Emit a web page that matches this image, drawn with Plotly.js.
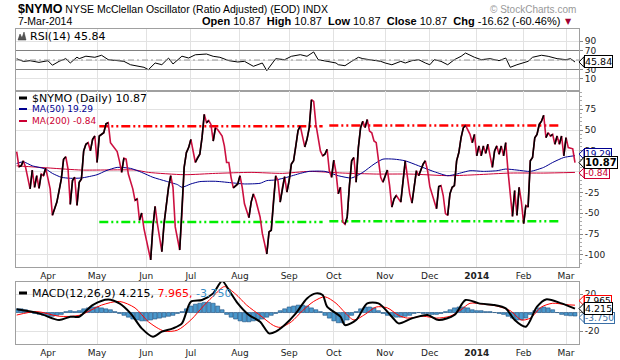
<!DOCTYPE html>
<html><head><meta charset="utf-8">
<script src="https://cdn.plot.ly/plotly-3.0.1.min.js"></script>
<style>html,body{margin:0;padding:0;background:#fff}#chart{width:620px;height:360px}</style>
</head><body><div id="chart"></div>
<script>
// x values are trading-session numbers counted from 1-Apr-2013 (= 0)
const monthTickSession = [0,22,44,64,86,108,128,151,171,192,213,232];
const monthTickLabels = ['Apr','May','Jun','Jul','Aug','Sep','Oct','Nov','Dec','<b>2014</b>','Feb','Mar'];

const nymoSession = [-14,-13,-12,-11,-10,-8,-7,-6,-5,-4,-3,-2,-1,1,2,4,5,6,7,8,9,10,11,12,13,14,15,16,17,18,19,20,21,22,23,25,26,27,28,29,31,32,33,34,35,36,38,39,40,41,42,43,44,45,46,47,48,49,51,52,53,54,55,56,57,58,59,60,61,62,63,64,66,67,68,69,70,71,72,73,74,75,76,78,79,80,81,82,83,85,86,87,88,90,91,92,93,95,96,97,98,99,100,101,102,103,104,105,106,107,108,109,110,111,112,113,114,115,116,117,118,119,120,121,122,123,124,125,126,127,128,129,130,131,132,133,134,135,136,137,138,139,140,141,142,143,144,145,146,147,148,149,150,151,152,153,154,155,156,158,159,160,161,162,163,164,165,166,168,169,170,171,173,174,175,176,177,178,179,180,181,182,183,184,185,186,187,189,190,191,192,193,194,195,196,197,198,199,200,201,202,203,204,205,206,207,208,209,210,211,212,213,214,215,216,217,218,219,220,221,222,223,224,225,226,227,228,229,230,231,232,233,234,235,236];
const nymoValue = [24.2,6.0,7.1,13.1,5.2,-20.6,2.0,-18.7,-4.8,-19.9,-2.8,-4.8,4.4,-20.6,-52.4,-36.5,-22.6,-8.7,15,18,3.2,-39.3,-10.7,-6.7,-40.5,-12.7,-8.7,25.0,33.0,34.9,25.0,38.9,42.9,11.1,42.9,46.8,57.6,58.8,34.9,31.0,24.2,13.1,-0.8,16.3,15.1,-2.8,-20.6,-34.5,-32.6,-58.4,-49.6,-68.3,-82.2,-92.1,-106,-66.3,-41.7,-62.3,-96.1,-62.3,-40.5,-18.7,-4.8,-18.7,-66.3,-78.2,-94.1,-50.4,5.2,23.0,29.0,38.9,11.1,17.1,21.0,40.9,69,59,61.5,56.8,36.9,52.8,50.8,42.9,31.0,11.1,11.1,-6.7,-19.5,-14.7,-4.8,-18.7,-38.5,-55.2,-36.5,-26.6,-33.7,-54.4,-74.2,-86.1,-98.9,-72.3,-70.3,-34.5,-4.8,-10.7,-36.5,-18.7,-6.0,-24.6,-10.7,9.1,13.1,31.0,49.6,54.8,40.9,29.8,38.9,52.8,86.5,84.5,56.8,40.9,25.0,19.1,21.0,27.0,1.2,-6.7,13.9,-0.8,-26.6,-18.7,-60.3,-63.1,-54.4,-16.7,13.1,17.1,-12.7,29.0,52.8,60.7,53.0,62.7,48.8,46.8,36.9,34.9,17.1,-6.7,-12.7,-4.8,2.0,-16.7,-42.5,-32.6,-28.6,-36.5,-6.7,13.1,-6.7,-26.6,-37.7,-14.7,1.2,-4.8,9.1,13.1,1.2,-17.9,-34.5,-44.5,-17.9,-16.7,-28.6,-50.4,-52.4,-26.6,-18.7,-16.7,13.1,23.0,40.9,52.8,55.6,44.9,34.9,44.9,19.1,31.0,19.1,31.0,22.0,33.0,19.1,5.2,25.0,31.0,21.0,31.0,19.1,34.9,1.2,-22.6,-53.6,-22.6,-52.4,-18.7,-36.0,-62.3,-40.5,-42.5,13.1,17.1,40.9,44.9,56.8,60.7,67.9,40.9,46.8,42.9,44.9,33.0,42.9,33.0,42.9,19.1,40.9,29.0,28.0,27.5,10.87];

const ma50Session = [-14,-11,-7,-1,2,6,10,15,22,26,31,37,42,47,53,58,60,64,68,75,83,88,95,98,102,107,113,117,124,130,136,141,146,150,155,160,166,173,179,183,189,195,201,205,210,216,222,226,231,236];
const ma50Value = [9.9,11.9,7.1,3.2,-2.0,-6.7,-7.9,-7.5,-3.6,1.2,5.2,4.0,-0.8,-6.7,-11.5,-15.5,-18.7,-14.7,-11.9,-11.5,-13.5,-14.7,-13.9,-10.7,-9.9,-6.7,-2.0,0.4,0.4,-4.8,-7.5,-0.8,9.1,15.1,15.1,13.1,7.1,0,-4.8,-2.8,1.2,0.4,1.2,3.2,2.0,0.4,5.2,11.1,17.1,19.29];

const ma200Session = [-14,1,15,39,45,61,75,91,105,117,132,147,162,180,192,207,222,236];
const ma200Value = [7.1,4.4,2.0,2.0,-0.8,-3.6,-2.0,-0.8,-2.0,0.4,-1.6,-2.8,-2.8,-4.8,-3.6,-1.6,-1.6,-0.84];

// hand-drawn trend lines on the main panel
const trendSession = [[23,123],[126,229]];
const trendUpper = [54.5,55.5];
const trendLower = [-60.3,-59.5];

const rsiSession = [-14,-11,-8,-4,0,2,5,8,10,13,14,17,21,24,27,30,34,37,40,43,45,48,51,54,56,60,63,66,71,74,77,81,85,88,92,96,98,101,102,106,109,113,116,119,121,125,129,130,133,136,139,141,145,149,151,154,158,160,163,166,169,171,173,176,179,182,185,187,191,194,198,202,205,207,210,213,215,217,221,224,228,232,234,236];
const rsiValue = [52.7,47,48.5,45,48.5,39,47.2,53,43.7,56,52.8,58,55.7,60,50.7,48.6,47.2,40,36.7,34.6,29.6,43.7,40.1,54,41.6,58,54.2,61,62.6,57.8,55.7,48.6,45.8,47.2,36.7,43.7,27.5,47.2,52.8,50.7,57.8,61.2,57.8,67,50.7,47.2,43.7,40.1,38,47.2,55.7,52.8,50.7,47.2,43.7,40,47.2,43.7,48.6,50.7,43.7,40,50.7,47.2,40,50.7,57.8,64.7,55.7,50.7,52.8,48.6,54.2,34.6,40,43.7,47.2,55.7,60,57.8,52.8,50.7,52.8,45.84];

const macdSession = [-14,-4,5,10,14,20,27,32,37,42,47,51,56,60,64,69,74,78,81,85,90,95,99,102,106,111,116,120,123,125,131,133,138,143,148,154,157,163,170,175,182,187,193,200,205,209,214,219,223,230,236];
const macdValue = [3.5,-0.9,-8.1,-4.5,-4.5,8.1,14.2,9.9,-0.9,-17.1,-26.1,-20.7,-17.1,-11.7,11.7,13.5,20.7,34,24.3,9.9,-2.7,-9.9,-22.5,-20.7,-13.5,-0.9,15.3,20.7,18.9,6.3,-4.5,-13.5,-8.1,9.9,9.9,-4.5,-11.7,-6.3,-2.7,-8.1,-2.7,13.5,9.9,8.1,4.5,-8.1,-15.3,6.3,14.2,9.9,4.215];
const signalSession = [-14,-5,5,14,24,32,39,45,52,58,64,70,75,79,84,89,95,101,104,109,114,119,124,129,133,137,142,147,152,157,161,168,174,180,185,189,195,201,207,212,216,221,226,232,236];
const signalValue = [-2.7,1,-4,-3,8,12,5,-10,-20,-19,-8,8,20,28,20,8,-3,-14,-16,-10,2,12,17,10,0,-8,-2,6,5,-3,-6,-4,-6,-4,3,10,9,7,2,-8,-6,6,10,8.5,7.965];
const histSession = [-14,-12,-10,-8,-6,-4,-2,0,2,4,6,8,10,12,14,16,18,20,22,24,26,28,30,32,34,36,38,40,42,44,46,48,50,52,54,56,58,60,62,64,66,68,70,72,74,76,78,80,82,84,86,88,90,92,94,96,98,100,102,104,106,108,110,112,114,116,118,120,122,124,126,128,130,132,134,136,138,140,142,144,146,148,150,152,154,156,158,160,162,164,166,168,170,172,174,176,178,180,182,184,186,188,190,192,194,196,198,200,202,204,206,208,210,212,214,216,218,220,222,224,226,228,230,232,234,236];
const histValue = [4,4,3,1,-1,-2,-3,-4,-4,-3,-2,1,2,1,2,4,5,6,6,5,4,3,1,-1,-3,-5,-7,-8,-9,-9,-8,-7,-6,-5,-4,-3,-1,1,4,7,9,10,11,11,10,7,3,-2,-5,-7,-9,-10,-10,-9,-8,-7,-5,-3,-1,2,4,6,7,8,8,7,5,3,1,-3,-6,-9,-11,-11,-8,-3,1,4,6,6,5,2,-1,-3,-4,-5,-5,-4,-3,-1,0,-1,-1,-2,-2,-1,1,3,5,6,6,5,3,2,2,1,1,0,-1,-2,-4,-6,-8,-8,-6,-2,2,5,6,5,3,0,-2,-3,-3.5,-3.75];

// ---------- layout helpers (pixel -> paper) ----------
const L = 16, R = 579, T = 29, B = 344;
const px = x => (x - L) / (R - L);
const py = y => (B - y) / (B - T);
const xr = [-14.3, 237.8];
const rsiRange = [-15.3, 115.3], mainRange = [-114.5, 97], macdRange = [-34, 33];
const rsiDom = [py(91), 1], mainDom = [py(267), py(91)], macdDom = [0, py(282)];
function pixY(v, range, dom) { // value -> pixel row, for label boxes
  const top = B - dom[1] * (B - T), bot = B - dom[0] * (B - T);
  return top + (range[1] - v) / (range[1] - range[0]) * (bot - top);
}

const DOWN = '#cc1040', UP = '#000000', NAVY = '#000090', CRIM = '#cc0033';
const FONT = 'DejaVu Sans';

// up-day overlay for the two-colour NYMO line
const upX = [], upY = [];
for (let i = 1; i < nymoValue.length; i++) {
  if (nymoValue[i] > nymoValue[i - 1]) {
    if (upX.length && upX[upX.length - 1] !== nymoSession[i - 1]) { upX.push(null); upY.push(null); }
    if (!upX.length || upX[upX.length - 1] !== nymoSession[i - 1]) { upX.push(nymoSession[i - 1]); upY.push(nymoValue[i - 1]); }
    upX.push(nymoSession[i]); upY.push(nymoValue[i]);
  }
}

const dashDD = '9px,3px,2px,3px,2px,3px';
const traces = [
  {x: rsiSession, y: rsiValue, xaxis: 'x', yaxis: 'y', mode: 'lines', line: {color: '#000', width: 1}},
  {x: ma200Session, y: ma200Value, xaxis: 'x2', yaxis: 'y2', mode: 'lines', line: {color: CRIM, width: 1, shape: 'spline', smoothing: 0.6}},
  {x: ma50Session, y: ma50Value, xaxis: 'x2', yaxis: 'y2', mode: 'lines', line: {color: NAVY, width: 1, shape: 'spline', smoothing: 0.6}},
  {x: trendSession[0], y: [trendUpper[0], trendUpper[0]], xaxis: 'x2', yaxis: 'y2', mode: 'lines', line: {color: '#ff0000', width: 2.5, dash: dashDD}},
  {x: trendSession[1], y: [trendUpper[1], trendUpper[1]], xaxis: 'x2', yaxis: 'y2', mode: 'lines', line: {color: '#ff0000', width: 2.5, dash: dashDD}},
  {x: trendSession[0], y: [trendLower[0], trendLower[0]], xaxis: 'x2', yaxis: 'y2', mode: 'lines', line: {color: '#00ee00', width: 2.5, dash: dashDD}},
  {x: trendSession[1], y: [trendLower[1], trendLower[1]], xaxis: 'x2', yaxis: 'y2', mode: 'lines', line: {color: '#00ee00', width: 2.5, dash: dashDD}},
  {x: nymoSession, y: nymoValue, xaxis: 'x2', yaxis: 'y2', mode: 'lines', line: {color: DOWN, width: 1.6}},
  {x: upX, y: upY, xaxis: 'x2', yaxis: 'y2', mode: 'lines', connectgaps: false, line: {color: UP, width: 1.6}},
  {x: histSession, y: histValue, xaxis: 'x3', yaxis: 'y3', type: 'bar', width: 1.75,
   marker: {color: '#4a98cc', line: {color: '#1c4f80', width: 0.6}}},
  {x: signalSession, y: signalValue, xaxis: 'x3', yaxis: 'y3', mode: 'lines', line: {color: '#ff0000', width: 1, shape: 'spline', smoothing: 0.8}},
  {x: macdSession, y: macdValue, xaxis: 'x3', yaxis: 'y3', mode: 'lines', line: {color: '#000', width: 2, shape: 'spline', smoothing: 0.8}}
];

const gridC = '#e2e2e2', lineC = '#a0a0a0';
const xBase = {range: xr, tickmode: 'array', tickvals: monthTickSession, ticktext: monthTickLabels,
  showgrid: true, gridcolor: gridC, gridwidth: 1, zeroline: false, showline: true, mirror: true,
  linecolor: lineC, ticks: '', tickfont: {family: FONT, size: 9, color: '#222'}, fixedrange: true};
const yBase = {side: 'right', showgrid: true, gridcolor: gridC, zeroline: false, showline: true, mirror: true,
  linecolor: lineC, ticks: 'outside', ticklen: 3, tickcolor: '#888', tickfont: {family: FONT, size: 9, color: '#222'}};

const ann = [];
const A = (o) => ann.push(Object.assign({xref: 'paper', yref: 'paper', showarrow: false, xanchor: 'left', yanchor: 'middle'}, o));
// header
A({x: px(16), y: py(9), text: '<span style="font-size:12.5px"><b>$NYMO</b></span> NYSE McClellan Oscillator (Ratio Adjusted) (EOD) INDX',
   font: {family: 'Liberation Sans', size: 10.5, color: '#000'}});
A({x: px(16), y: py(21), text: '7-Mar-2014', font: {family: 'Liberation Sans', size: 10.5, color: '#000'}});
A({x: px(578), y: py(10), xanchor: 'right', text: '\u00a9 StockCharts.com', font: {family: 'Liberation Sans', size: 10, color: '#999'}});
A({x: px(562), y: py(21), xanchor: 'right',
   text: '<b>Open</b> 10.87\u00a0\u00a0<b>High</b> 10.87\u00a0\u00a0<b>Low</b> 10.87\u00a0\u00a0<b>Close</b> 10.87\u00a0\u00a0<b>Chg</b> -16.62 (-60.46%)',
   font: {family: 'Liberation Sans', size: 11, color: '#000'}});
A({x: px(563), y: py(21), text: '\u25bc', font: {family: FONT, size: 8, color: '#a00030'}});
// panel legends
A({x: px(28), y: py(36), text: 'RSI(14) 45.84', font: {family: FONT, size: 11, color: '#000'}});
A({x: px(30), y: py(98), text: '$NYMO (Daily) 10.87', font: {family: FONT, size: 11, color: '#000'}});
A({x: px(30), y: py(109), text: 'MA(50) 19.29', font: {family: FONT, size: 9, color: NAVY}});
A({x: px(30), y: py(121), text: 'MA(200) -0.84', font: {family: FONT, size: 9, color: CRIM}});
A({x: px(30), y: py(293), text: 'MACD(12,26,9) 4.215, <span style="color:#ff0000">7.965,</span> <span style="color:#3a8fc8">-3.750</span>',
   font: {family: FONT, size: 11, color: '#000'}});

const shapes = [];
const S = (o) => shapes.push(Object.assign({xref: 'paper', yref: 'paper'}, o));
// RSI reference levels
shapes.push({type: 'line', xref: 'paper', yref: 'y', x0: 0, x1: 1, y0: 70, y1: 70, line: {color: '#808080', width: 1.2}});
shapes.push({type: 'line', xref: 'paper', yref: 'y', x0: 0, x1: 1, y0: 30, y1: 30, line: {color: '#808080', width: 1.2}});
shapes.push({type: 'line', xref: 'paper', yref: 'y', x0: 0, x1: 1, y0: 50, y1: 50, line: {color: '#999', width: 1, dash: '6px,3px,2px,3px'}});
// legend markers
S({type: 'line', x0: px(19), x1: px(27), y0: py(98), y1: py(98), line: {color: '#000', width: 3}});
S({type: 'line', x0: px(19), x1: px(27), y0: py(109), y1: py(109), line: {color: NAVY, width: 2}});
S({type: 'line', x0: px(19), x1: px(27), y0: py(121), y1: py(121), line: {color: CRIM, width: 2}});
S({type: 'line', x0: px(19), x1: px(27), y0: py(293), y1: py(293), line: {color: '#000', width: 3}});
S({type: 'path', path: `M${px(18)},${py(40)} L${px(20)},${py(34)} L${px(22)},${py(38)} L${px(24)},${py(32)} L${px(26)},${py(40)} Z`,
   fillcolor: '#555', line: {color: '#333', width: 0.5}});

// right-hand value boxes
function box(v, range, dom, text, col, txtCol, bold, shift, size) {
  const yc = pixY(v, range, dom) + (shift || 0);
  const h = size * 0.55;
  S({type: 'path', path: `M${px(579)},${py(yc)} L${px(584)},${py(yc - h)} L${px(584)},${py(yc + h)} Z`,
     fillcolor: '#fff', line: {color: col, width: 1}});
  A({x: px(584), y: py(yc), text: bold ? '<b>' + text + '</b>' : text, bgcolor: '#fff', bordercolor: col,
     borderwidth: 1, borderpad: 0, font: {family: FONT, size: size, color: txtCol}});
}
box(45.84, rsiRange, rsiDom, '45.84', '#000', '#000', false, 0, 9.5);
box(19.29, mainRange, mainDom, '19.29', NAVY, NAVY, false, -1.5, 9);
box(-0.84, mainRange, mainDom, '-0.84', CRIM, CRIM, false, 0.5, 9);
box(10.87, mainRange, mainDom, '10.87', '#000', '#000', true, 0, 10);
box(7.965, macdRange, macdDom, '7.965', '#ff0000', '#000', false, -4.5, 9);
box(-3.750, macdRange, macdDom, '-3.750', '#3a6ea5', '#3a6ea5', false, 1.5, 9);
box(4.215, macdRange, macdDom, '4.215', '#000', '#000', false, 0, 9.5);

const layout = {
  width: 620, height: 360, margin: {l: L, r: 620 - R, t: T, b: 360 - B, pad: 0},
  paper_bgcolor: '#fff', plot_bgcolor: '#fff', showlegend: false, bargap: 0,
  xaxis: Object.assign({}, xBase, {anchor: 'y', showticklabels: false}),
  xaxis2: Object.assign({}, xBase, {anchor: 'y2', matches: 'x'}),
  xaxis3: Object.assign({}, xBase, {anchor: 'y3', matches: 'x'}),
  yaxis: Object.assign({}, yBase, {anchor: 'x', domain: rsiDom, range: rsiRange,
    tickvals: [10, 30, 50, 70, 90], ticktext: ['10', '30', '', '70', '90']}),
  yaxis2: Object.assign({}, yBase, {anchor: 'x2', domain: mainDom, range: mainRange,
    tickvals: [-100, -75, -50, -25, 0, 25, 50, 75], ticktext: ['-100', '-75', '-50', '-25', '', '25', '50', '75'],
    minor: {ticks: 'outside', ticklen: 2, dtick: 5, tickcolor: '#aaa', showgrid: false}}),
  yaxis3: Object.assign({}, yBase, {anchor: 'x3', domain: macdDom, range: macdRange,
    tickvals: [-20, 0, 20], ticktext: ['-20', '', '20']}),
  annotations: ann, shapes: shapes
};
Plotly.newPlot('chart', traces, layout, {staticPlot: true, displayModeBar: false});
</script></body></html>
